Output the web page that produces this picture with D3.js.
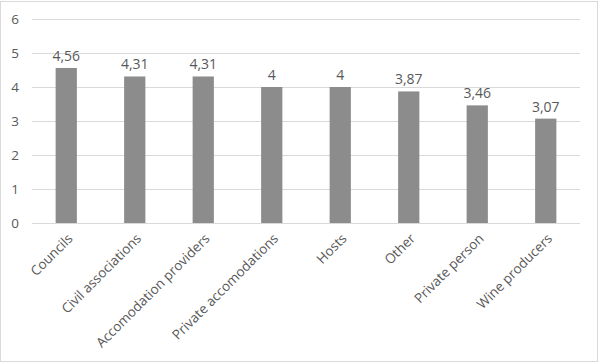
<!DOCTYPE html>
<html>
<head>
<meta charset="utf-8">
<script src="https://cdn.jsdelivr.net/npm/d3@7"></script>
<style>
  body { margin: 0; background: #fff; }
  text { font-family: "Open Sans", "Liberation Sans", sans-serif; fill: #595959; }
</style>
</head>
<body>
<div id="chart"></div>
<script>
const width = 600;
const height = 363;

// Data
const categories = ["Councils", "Civil associations", "Accomodation providers", "Private accomodations", "Hosts", "Other", "Private person", "Wine producers"];
const values = [4.56, 4.31, 4.31, 4, 4, 3.87, 3.46, 3.07];
const yTicks = [0, 1, 2, 3, 4, 5, 6];

const margin = { top: 19, right: 20, bottom: 140, left: 32 };

const svg = d3
    .select("#chart")
    .append("svg")
    .attr("width", width)
    .attr("height", height);

// Outer frame
svg.append("rect")
    .attr("x", 0.5)
    .attr("y", 1.5)
    .attr("width", width - 3)
    .attr("height", height - 3)
    .attr("fill", "#fff")
    .attr("stroke", "#d9d9d9");

const x = d3
    .scaleBand()
    .domain(categories)
    .range([margin.left, width - margin.right])
    .paddingInner(0.69)
    .paddingOuter(0.345);

const y = d3
    .scaleLinear()
    .domain([0, 6])
    .range([height - margin.bottom, margin.top]);

// Gridlines
svg.append("g")
    .selectAll("line")
    .data(yTicks)
    .enter()
    .append("line")
    .attr("x1", margin.left)
    .attr("x2", width - margin.right)
    .attr("y1", (d) => Math.round(y(d)) + 0.5)
    .attr("y2", (d) => Math.round(y(d)) + 0.5)
    .attr("stroke", "#d9d9d9");

// Y axis labels
const yAxis = d3.axisLeft(y).tickValues(yTicks).tickFormat(d3.format("d")).tickSize(0).tickPadding(13);
svg.append("g")
    .attr("transform", `translate(${margin.left},0)`)
    .call(yAxis)
    .call((g) => g.select(".domain").remove())
    .selectAll("text")
    .style("font-size", "13.5px")
    .style("fill", "#595959")
    .style("font-family", '"Open Sans", "Liberation Sans", sans-serif');

// Bars
svg.append("g")
    .selectAll("rect")
    .data(values)
    .enter()
    .append("rect")
    .attr("x", (d, i) => x(categories[i]))
    .attr("y", (d) => y(d))
    .attr("width", x.bandwidth())
    .attr("height", (d) => y(0) - y(d))
    .attr("fill", "#8c8c8c");

// Value labels
const fmt = (v) => String(v).replace(".", ",");
svg.append("g")
    .selectAll("text")
    .data(values)
    .enter()
    .append("text")
    .attr("x", (d, i) => x(categories[i]) + x.bandwidth() / 2)
    .attr("y", (d) => y(d) - 7)
    .attr("text-anchor", "middle")
    .style("font-size", "14px")
    .text((d) => fmt(d));

// X axis labels, rotated 45 degrees
svg.append("g")
    .selectAll("text")
    .data(categories)
    .enter()
    .append("text")
    .attr("text-anchor", "end")
    .attr("dy", "0.35em")
    .style("font-size", "13.5px")
    .attr("transform", (d) => `translate(${x(d) + x.bandwidth() / 2 + 4},${y(0) + 13}) rotate(-45)`)
    .text((d) => d);
</script>
</body>
</html>
